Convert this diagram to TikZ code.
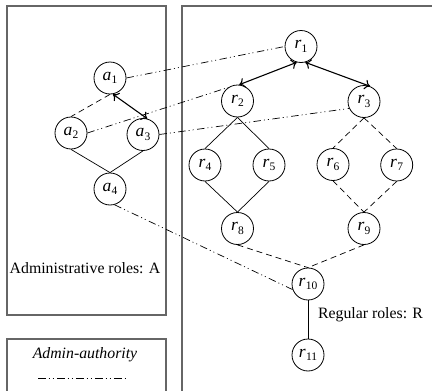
\documentclass[tikz,border=0pt]{standalone}
\usepackage{fontspec}
\setmainfont{Liberation Serif}
\usetikzlibrary{arrows.meta}
\newcommand\rlab[2]{\textit{#1}\kern0.3pt\raisebox{-0.45ex}{\fontsize{11.5}{11.5}\selectfont #2}}
\begin{document}
\begin{tikzpicture}[x=1pt,y=-1pt,
  role/.style={circle,draw,line width=0.8pt,minimum size=32pt,inner sep=0pt,font=\fontsize{17.5}{17.5}\selectfont},
  frame/.style={draw=black!60,line width=1.3pt},
  auth/.style={line width=0.7pt,dash pattern=on 7.5pt off 3pt on 1pt off 3pt on 1pt off 3.5pt},
  dsh/.style={line width=0.7pt,dash pattern=on 6pt off 4pt},
  sol/.style={line width=0.7pt},
  dbl/.style={line width=1.1pt,{To[length=5.5pt,width=10pt]}-{To[length=5.5pt,width=10pt]}},
  lbl/.style={font=\fontsize{15.8}{16}\selectfont,inner sep=0pt}]
\clip (0,0) rectangle (432,391);
% frames
\draw[frame] (7,6) rectangle (166,315);
\draw[frame] (7,339) rectangle (166,420);
\draw[frame] (182,6) rectangle (450,420);
% labels
\node[lbl] (adm) at (85,268) {Administrative roles: A};
\node[lbl] (reg) at (370.5,315) {Regular roles: R};
\node[lbl,font=\fontsize{15.8}{16}\selectfont\itshape] (leg) at (85,355) {Admin-authority};
\coordinate (l1) at (38,378);
\coordinate (l2) at (127,378);
\draw[auth] (l1) -- (l2);
% admin roles
\node[role] (a1) at (110,78) {\rlab{a}{1}};
\node[role] (a2) at (71,133) {\rlab{a}{2}};
\node[role] (a3) at (143,134.5) {\rlab{a}{3}};
\node[role] (a4) at (110,189) {\rlab{a}{4}};
% regular roles
\node[role] (r1) at (301,46.5) {\rlab{r}{1}};
\node[role] (r2) at (237.5,101) {\rlab{r}{2}};
\node[role] (r3) at (364,101.5) {\rlab{r}{3}};
\node[role] (r4) at (205,165) {\rlab{r}{4}};
\node[role] (r5) at (269,165) {\rlab{r}{5}};
\node[role] (r6) at (333,164.5) {\rlab{r}{6}};
\node[role] (r7) at (396.7,165) {\rlab{r}{7}};
\node[role] (r8) at (237.5,228.5) {\rlab{r}{8}};
\node[role] (r9) at (364,228.5) {\rlab{r}{9}};
\node[role] (r10) at (308,284) {\rlab{r}{10}};
\node[role] (r11) at (308,355) {\rlab{r}{11}};
% admin hierarchy
\draw[dbl] (a1.-80) -- (a3.75);
\draw[dsh] (a1.south) -- (a2.north);
\draw[sol] (a2.south) -- (a4.north);
\draw[sol] (a3.south) -- (a4.north);
% regular hierarchy
\draw[dbl] (r1.-105) -- (r2.84);
\draw[dbl] (r1.-75) -- (r3.68);
\draw[sol] (r2.south) -- (r4.north);
\draw[sol] (r2.south) -- (r5.north);
\draw[dsh] (r3.south) -- (r6.north);
\draw[dsh] (r3.south) -- (r7.north);
\draw[sol] (r4.south) -- (r8.north);
\draw[sol] (r5.south) -- (r8.north);
\draw[dsh] (r6.south) -- (r9.north);
\draw[dsh] (r7.south) -- (r9.north);
\draw[dsh] (r8.south) -- (r10.north);
\draw[dsh] (r9.south) -- (r10.north);
\draw[sol] (r10.south) -- (r11.north);
% admin authority
\draw[auth] (a1.east) -- (r1.west);
\draw[auth] (a2.east) -- (r2.124);
\draw[auth] (a3.east) -- (r3.205);
\draw[auth] (a4.-74) -- (r10.200);
\end{tikzpicture}
\end{document}
